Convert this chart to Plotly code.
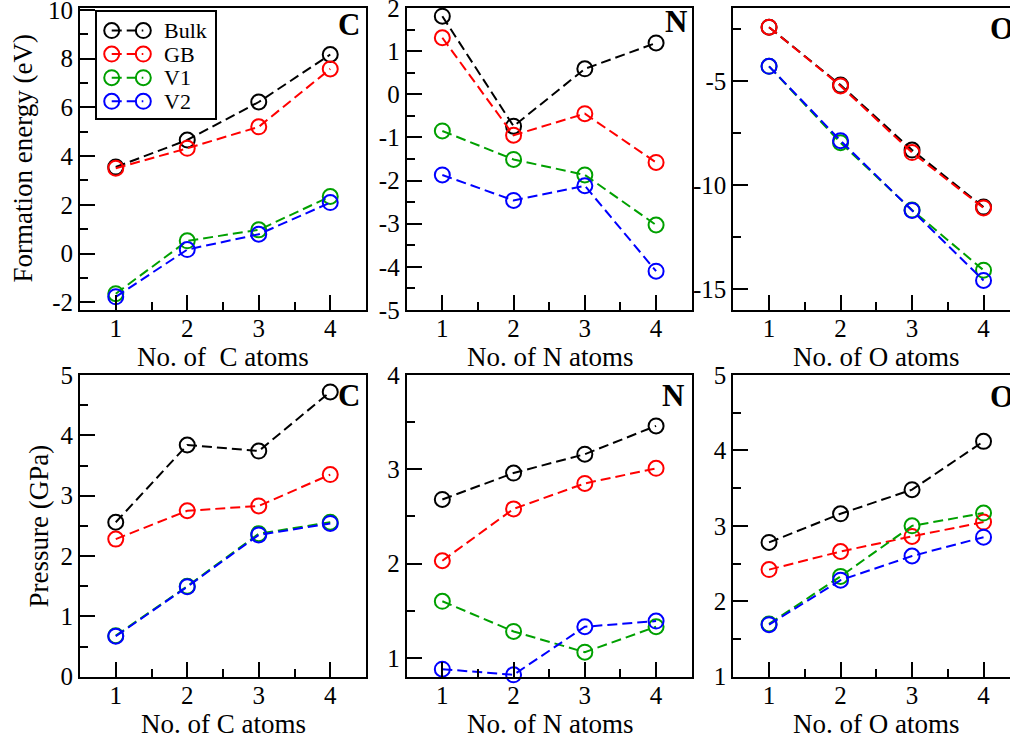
import plotly.graph_objects as go

W, H = 1010, 742

# ---------------------------------------------------------------- data
N_ATOMS = [1, 2, 3, 4]
SERIES = ["Bulk", "GB", "V1", "V2"]
COLORS = ["#000000", "#ff0000", "#00a000", "#0000ff"]

# formation energy (eV); rows follow SERIES order
EF_C = [[3.55, 4.66, 6.22, 8.17],
        [3.50, 4.32, 5.20, 7.58],
        [-1.65, 0.52, 0.97, 2.34],
        [-1.78, 0.16, 0.79, 2.09]]
EF_N = [[1.81, -0.74, 0.59, 1.19],
        [1.31, -0.95, -0.45, -1.58],
        [-0.85, -1.51, -1.87, -3.03],
        [-1.87, -2.46, -2.12, -4.10]]
EF_O = [[-2.42, -5.20, -8.32, -11.06],
        [-2.42, -5.24, -8.44, -11.10],
        [-4.30, -7.97, -11.20, -14.09],
        [-4.30, -7.87, -11.22, -14.58]]

# pressure (GPa); rows follow SERIES order
P_C = [[2.56, 3.84, 3.74, 4.72],
       [2.28, 2.75, 2.83, 3.35],
       [0.68, 1.50, 2.37, 2.56],
       [0.67, 1.49, 2.35, 2.54]]
P_N = [[2.68, 2.96, 3.16, 3.46],
       [2.03, 2.58, 2.85, 3.01],
       [1.60, 1.28, 1.06, 1.33],
       [0.88, 0.82, 1.33, 1.39]]
P_O = [[2.78, 3.16, 3.48, 4.12],
       [2.42, 2.66, 2.86, 3.05],
       [1.70, 2.33, 3.00, 3.17],
       [1.69, 2.28, 2.60, 2.85]]

X_TICKS = [1, 2, 3, 4]
X_TICKTEXT = ["1", "2", "3", "4"]
EF_C_TICKS = [-2, 0, 2, 4, 6, 8, 10]
EF_C_TICKTEXT = ["-2", "0", "2", "4", "6", "8", "10"]
EF_N_TICKS = [-5, -4, -3, -2, -1, 0, 1, 2]
EF_N_TICKTEXT = ["-5", "-4", "-3", "-2", "-1", "0", "1", "2"]
EF_O_TICKS = [-15, -10, -5]
EF_O_TICKTEXT = ["-15", "-10", "-5"]
P_C_TICKS = [0, 1, 2, 3, 4, 5]
P_C_TICKTEXT = ["0", "1", "2", "3", "4", "5"]
P_N_TICKS = [1, 2, 3, 4]
P_N_TICKTEXT = ["1", "2", "3", "4"]
P_O_TICKS = [1, 2, 3, 4, 5]
P_O_TICKTEXT = ["1", "2", "3", "4", "5"]

ELEMENTS = ["C", "N", "O"]

# ---------------------------------------------------------------- layout helpers
SERIF = "Liberation Serif"


def fx(px):
    return px / W


def fy(py):
    return 1 - py / H


COL_PX = [(80, 366), (406.7, 691.7), (733.3, 1010)]
ROW_PX = [(8, 310), (375, 676.7)]
X_UNIT = (COL_PX[0][1] - COL_PX[0][0]) / 4.0
X_RANGES = [[0.5, 4.5], [0.5, 4.5],
            [0.5, 0.5 + (COL_PX[2][1] - COL_PX[2][0]) / X_UNIT]]

panels = [
    dict(data=EF_C, yr=[-2.32, 10.08], tv=EF_C_TICKS, tt=EF_C_TICKTEXT, minor=1, tick0=0),
    dict(data=EF_N, yr=[-5, 2], tv=EF_N_TICKS, tt=EF_N_TICKTEXT, minor=0.5, tick0=0),
    dict(data=EF_O, yr=[-16, -1.5], tv=EF_O_TICKS, tt=EF_O_TICKTEXT, minor=2.5, tick0=0),
    dict(data=P_C, yr=[0, 5], tv=P_C_TICKS, tt=P_C_TICKTEXT, minor=0.5, tick0=0),
    dict(data=P_N, yr=[0.8, 4], tv=P_N_TICKS, tt=P_N_TICKTEXT, minor=0.5, tick0=0),
    dict(data=P_O, yr=[1, 5], tv=P_O_TICKS, tt=P_O_TICKTEXT, minor=0.5, tick0=0),
]

fig = go.Figure()
layout = dict(
    width=W, height=H,
    margin=dict(l=0, r=0, t=0, b=0, pad=0, autoexpand=False),
    paper_bgcolor="white", plot_bgcolor="white",
    showlegend=False,
    font=dict(family=SERIF, color="black"),
)

tick_font = dict(family=SERIF, size=25, color="black")

for i, p in enumerate(panels):
    row, col = divmod(i, 3)
    n = i + 1
    xa = "x" if n == 1 else f"x{n}"
    ya = "y" if n == 1 else f"y{n}"
    for s, name in enumerate(SERIES):
        fig.add_trace(go.Scatter(
            x=N_ATOMS, y=p["data"][s], name=name, xaxis=xa, yaxis=ya,
            mode="lines+markers",
            line=dict(color=COLORS[s], width=2, dash="10px,5px"),
            marker=dict(symbol="circle-open", size=15, color=COLORS[s],
                        line=dict(width=2, color=COLORS[s])),
            cliponaxis=False,
        ))
    x0, x1 = COL_PX[col]
    y0, y1 = ROW_PX[row]
    layout[f"xaxis{'' if n == 1 else n}"] = dict(
        domain=[fx(x0), fx(x1)], anchor=ya, range=X_RANGES[col],
        tickmode="array", tickvals=X_TICKS, ticktext=X_TICKTEXT,
        ticks="inside", ticklen=15, tickwidth=1.5, tickcolor="black",
        minor=dict(tickmode="linear", tick0=0.5, dtick=1, ticks="inside",
                   ticklen=8, tickwidth=1.5, tickcolor="black"),
        showline=True, linewidth=2, linecolor="black", mirror=True,
        showgrid=False, zeroline=False, tickfont=tick_font,
        ticklabelstandoff=-5, ticklabeloverflow="allow",
        automargin=False, fixedrange=True,
    )
    layout[f"yaxis{'' if n == 1 else n}"] = dict(
        domain=[fy(y1), fy(y0)], anchor=xa, range=p["yr"],
        tickmode="array", tickvals=p["tv"], ticktext=p["tt"],
        ticks="inside", ticklen=15, tickwidth=1.5, tickcolor="black",
        minor=dict(tickmode="linear", tick0=p["tick0"], dtick=p["minor"],
                   ticks="inside", ticklen=8, tickwidth=1.5, tickcolor="black"),
        showline=True, linewidth=2, linecolor="black", mirror=(col < 2),
        showgrid=False, zeroline=False, tickfont=tick_font,
        ticklabeloverflow="allow",
        automargin=False, fixedrange=True,
    )

# ---------------------------------------------------------------- legend box (panel C)
LEG_X = (96.7, 215.0)
LEG_Y = (12.3, 117.7)
layout["xaxis7"] = dict(domain=[fx(LEG_X[0]), fx(LEG_X[1])], anchor="y7", range=[0, 1],
                        showline=True, linewidth=1.5, linecolor="black", mirror=True,
                        showticklabels=False, ticks="", showgrid=False, zeroline=False,
                        automargin=False, fixedrange=True)
layout["yaxis7"] = dict(domain=[fy(LEG_Y[1]), fy(LEG_Y[0])], anchor="x7", range=[0, 1],
                        showline=True, linewidth=1.5, linecolor="black", mirror=True,
                        showticklabels=False, ticks="", showgrid=False, zeroline=False,
                        automargin=False, fixedrange=True)

leg_rows = [0.827, 0.604, 0.380, 0.155]
annotations = []
for s, name in enumerate(SERIES):
    fig.add_trace(go.Scatter(
        x=[0.127, 0.394], y=[leg_rows[s], leg_rows[s]], xaxis="x7", yaxis="y7",
        mode="lines+markers", hoverinfo="skip",
        line=dict(color=COLORS[s], width=2, dash="10px,5px"),
        marker=dict(symbol="circle-open", size=15, color=COLORS[s],
                    line=dict(width=2, color=COLORS[s])),
    ))
    annotations.append(dict(
        x=0.555, y=leg_rows[s], xref="x7", yref="y7", text=name, showarrow=False,
        xanchor="left", yanchor="middle", font=dict(family=SERIF, size=22, color="black"),
    ))

# ---------------------------------------------------------------- axis titles
title_font = dict(family=SERIF, size=27, color="black")
for col, el in enumerate(ELEMENTS):
    cx = (COL_PX[col][0] + (COL_PX[col][0] + 4.0 * X_UNIT)) / 2.0
    top_txt = f"No. of \u00a0{el} atoms" if el == "C" else f"No. of {el} atoms"
    annotations.append(dict(x=fx(cx), y=fy(357), xref="paper", yref="paper",
                            text=top_txt, showarrow=False, xanchor="center",
                            yanchor="middle", font=title_font))
    annotations.append(dict(x=fx(cx), y=fy(724), xref="paper", yref="paper",
                            text=f"No. of {el} atoms", showarrow=False, xanchor="center",
                            yanchor="middle", font=title_font))

annotations.append(dict(x=fx(22.5), y=fy(159), xref="paper", yref="paper",
                        text="Formation energy (eV)", textangle=-90, showarrow=False,
                        xanchor="center", yanchor="middle", font=title_font))
annotations.append(dict(x=fx(38.5), y=fy(526), xref="paper", yref="paper",
                        text="Pressure (GPa)", textangle=-90, showarrow=False,
                        xanchor="center", yanchor="middle", font=title_font))

# ---------------------------------------------------------------- element tags
tag_font = dict(family=SERIF, size=31, color="black", weight="bold")
TAG_POS = [(362, 24, "right"), (689, 22, "right"), (988, 29, "left"),
           (362, 395, "right"), (686, 395, "right"), (988, 396, "left")]
for k, (px, py, anc) in enumerate(TAG_POS):
    annotations.append(dict(x=fx(px), y=fy(py), xref="paper", yref="paper",
                            text=f"<b>{ELEMENTS[k % 3]}</b>", showarrow=False,
                            xanchor=anc, yanchor="middle", font=tag_font))

layout["annotations"] = annotations
fig.update_layout(**layout)

fig.write_html("out.html", config={"displayModeBar": False})
